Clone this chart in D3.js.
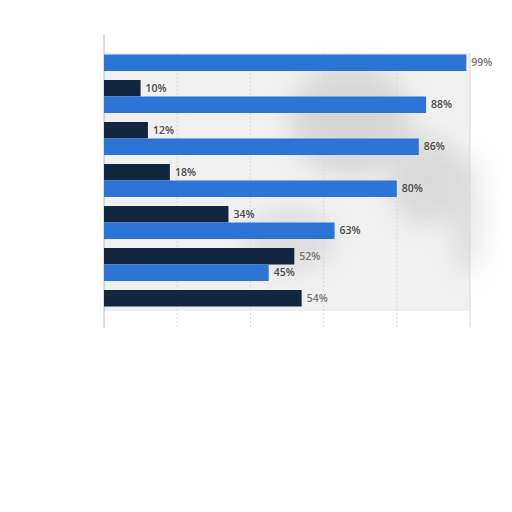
<!DOCTYPE html>
<html>
<head>
<meta charset="utf-8">
<script src="https://cdn.jsdelivr.net/npm/d3@7"></script>
<style>
body { margin: 0; background: #fff; }
</style>
</head>
<body>
<div id="chart"></div>
<script>
// groups top to bottom, each has a dark bar then a blue bar
var groups = ["g1", "g2", "g3", "g4", "g5", "g6", "g7"]
var series = ["dark", "blue"]
var darkValues = [null, 10, 12, 18, 34, 52, 54]
var blueValues = [99, 88, 86, 80, 63, 45, null]
var gridTicks = [20, 40, 60, 80, 100]

var colors = { dark: "#13263f", blue: "#2d74d7" }

var width = 512, height = 512

var svg = d3.select("#chart").append("svg")
	.attr("width", width)
	.attr("height", height)

var x = d3.scaleLinear().domain([0, 100]).range([104, 470])

var y = d3.scaleBand()
	.domain(groups)
	.range([33.5, 327.5])
	.paddingInner(9 / 42)
	.paddingOuter(4.5 / 42)

var ySub = d3.scaleBand().domain(series).range([0, y.bandwidth()])

var defs = svg.append("defs")
defs.append("filter").attr("id", "blur")
	.attr("x", "-50%").attr("y", "-50%").attr("width", "200%").attr("height", "200%")
	.append("feGaussianBlur").attr("stdDeviation", 12)

// light plot background + smudges
svg.append("rect")
	.attr("x", x(0)).attr("y", 53)
	.attr("width", x(100) - x(0)).attr("height", 258)
	.attr("fill", "#f0f0f0")

var smudge = svg.append("g").attr("filter", "url(#blur)").attr("opacity", 0.35)
smudge.append("ellipse").attr("cx", 350).attr("cy", 120).attr("rx", 60).attr("ry", 55).attr("fill", "#a8a8a8")
smudge.append("ellipse").attr("cx", 425).attr("cy", 180).attr("rx", 35).attr("ry", 45).attr("fill", "#b0b0b0")
smudge.append("ellipse").attr("cx", 468).attr("cy", 215).attr("rx", 14).attr("ry", 60).attr("fill", "#b5b5b5")
smudge.append("ellipse").attr("cx", 290).attr("cy", 240).attr("rx", 45).attr("ry", 30).attr("fill", "#bbbbbb")

// gridlines
svg.append("g").selectAll("line")
	.data(gridTicks)
	.enter().append("line")
		.attr("x1", function (d) { return x(d); })
		.attr("x2", function (d) { return x(d); })
		.attr("y1", 53)
		.attr("y2", 327)
		.attr("stroke", "#d8d8d8")
		.attr("stroke-width", 1)
		.attr("stroke-dasharray", function (d) { return d == 100 ? null : "2,2"; })

// left axis line
svg.append("line")
	.attr("x1", x(0)).attr("x2", x(0))
	.attr("y1", 35).attr("y2", 328)
	.attr("stroke", "#b8b8b8")

var rows = []
groups.forEach(function (g, i) {
	if (darkValues[i] != null) rows.push({ group: g, key: "dark", value: darkValues[i] })
	if (blueValues[i] != null) rows.push({ group: g, key: "blue", value: blueValues[i] })
})

svg.append("g").selectAll("rect")
	.data(rows)
	.enter().append("rect")
		.attr("x", x(0))
		.attr("y", function (d) { return y(d.group) + ySub(d.key); })
		.attr("width", function (d) { return x(d.value) - x(0); })
		.attr("height", ySub.bandwidth())
		.attr("fill", function (d) { return colors[d.key]; })

svg.append("g").selectAll("text")
	.data(rows)
	.enter().append("text")
		.attr("x", function (d) { return x(d.value) + 5; })
		.attr("y", function (d) { return y(d.group) + ySub(d.key) + ySub.bandwidth() / 2; })
		.attr("dy", "0.35em")
		.attr("font-family", "'Open Sans', sans-serif")
		.attr("font-size", 10.5)
		.attr("font-weight", 600)
		.attr("fill", function (d) { return (d.value == 99 || d.value == 52 || d.value == 54) ? "#777" : "#4a4a4a"; })
		.text(function (d) { return d.value + "%"; })
</script>
</body>
</html>
